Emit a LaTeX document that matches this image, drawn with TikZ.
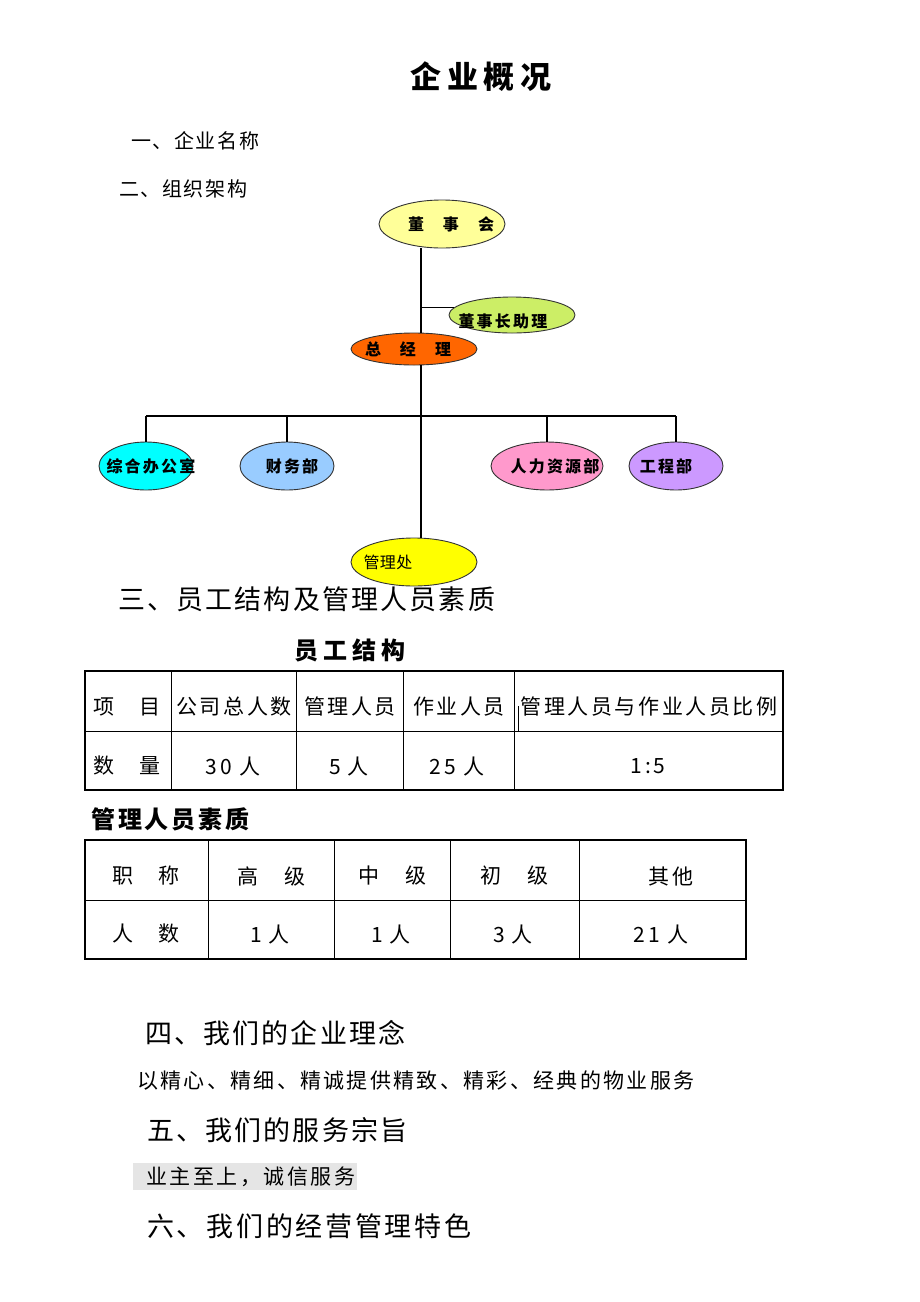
\documentclass[tikz,border=0pt]{standalone}
\usepackage{fontspec}
\setmainfont{Noto Sans CJK SC}
\usetikzlibrary{shapes.geometric}
\definecolor{boardfill}{HTML}{FFFF99}
\definecolor{asstfill}{HTML}{CCEE66}
\definecolor{gmfill}{HTML}{FF6600}
\definecolor{officefill}{HTML}{00FFFF}
\definecolor{financefill}{HTML}{99CCFF}
\definecolor{hrfill}{HTML}{FF99CC}
\definecolor{engfill}{HTML}{CC99FF}
\definecolor{mgmtfill}{HTML}{FFFF00}
\newcommand{\ovaltext}[2][0pt]{\makebox[0pt]{\hspace{#1}\hspace{#1}#2}}
\tikzset{
  orgoval/.style={ellipse,draw=black!80,line width=0.9pt,inner sep=0pt,
    font=\bfseries\fontsize{16}{16}\selectfont\addfontfeature{LetterSpace=14}},
  orgline/.style={line width=1.3pt},
  titletext/.style={inner sep=0pt,font=\bfseries\fontsize{31}{31}\selectfont\addfontfeature{LetterSpace=18}},
  heading/.style={inner sep=0pt,anchor=west,font=\fontsize{27}{27}\selectfont\addfontfeature{LetterSpace=8}},
  subheading/.style={inner sep=0pt,anchor=west,font=\fontsize{20}{20}\selectfont\addfontfeature{LetterSpace=8}},
  bodytext/.style={inner sep=0pt,anchor=west,font=\fontsize{21}{21}\selectfont\addfontfeature{LetterSpace=11}},
  tabletitle/.style={inner sep=0pt,font=\bfseries\fontsize{24}{24}\selectfont\addfontfeature{LetterSpace=20}},
  cell/.style={inner sep=0pt,font=\fontsize{21}{21}\selectfont\addfontfeature{LetterSpace=12}},
  outer/.style={line width=2pt},
  inner/.style={line width=1pt}
}
\begin{document}
\begin{tikzpicture}[x=1pt,y=-1pt]
\useasboundingbox (0,0) rectangle (920,1302);

% title and first items
\node[titletext] (title) at (481,77) {企业概况};
\node[subheading] (sec1) at (131,141) {一、企业名称};
\node[subheading] (sec2) at (119,189) {二、组织架构};

% organisation chart
\node[orgoval,fill=boardfill,minimum width=126,minimum height=48] (board) at (442,224)
  {\ovaltext[9pt]{董\hspace{19pt}事\hspace{19pt}会}};
\node[orgoval,fill=asstfill,minimum width=126,minimum height=36] (asst) at (512,315)
  {\ovaltext[-9pt]{\raisebox{-6pt}[\height][\depth]{董事长助理}}};
\node[orgoval,fill=gmfill,minimum width=126,minimum height=32] (gm) at (414,349)
  {\ovaltext[-6pt]{总\hspace{19pt}经\hspace{19pt}理}};
\node[orgoval,fill=officefill,minimum width=94,minimum height=48] (office) at (146,466)
  {\ovaltext[5pt]{综合办公室}};
\node[orgoval,fill=financefill,minimum width=94,minimum height=48] (finance) at (287,466)
  {\ovaltext[5pt]{财务部}};
\node[orgoval,fill=hrfill,minimum width=112,minimum height=48] (hr) at (547,466)
  {\ovaltext[8pt]{人力资源部}};
\node[orgoval,fill=engfill,minimum width=94,minimum height=48] (eng) at (676,466)
  {\ovaltext[-10pt]{工程部}};
\node[orgoval,fill=mgmtfill,minimum width=126,minimum height=48,
  font=\fontsize{16}{16}\selectfont\addfontfeature{LetterSpace=3}] (mgmt) at (414,562)
  {\ovaltext[-26pt]{管理处}};

\coordinate (trunk) at (421,0);
\coordinate (bus) at (0,416);
\draw[orgline] (board.south -| trunk) -- (gm.north -| trunk);
\draw[orgline] (trunk |- asst.173) -- (asst.173);
\draw[orgline] (gm.south -| trunk) -- (mgmt.north -| trunk);
\draw[orgline] (office.north |- bus) -- (eng.north |- bus);
\foreach \n in {office,finance,hr,eng}
  \draw[orgline] (\n.north |- bus) -- (\n.north);

% staff structure
\node[heading] (sec3) at (118,599) {三、员工结构及管理人员素质};
\node[tabletitle] (tab1title) at (350,650) {员工结构};

\draw[outer] (85,671) rectangle (783,790);
\draw[inner] (85,731) -- (783,731);
\foreach \x in {171,296,403,514}
  \draw[inner] (\x,671) -- (\x,790);
\draw[inner] (518,706) -- (518,731);
\node[cell] (ta-h1) at (127,707) {项\hspace{26pt}目};
\foreach \x/\t [count=\i from 2] in {234/公司总人数,350/管理人员,459/作业人员,649/管理人员与作业人员比例}
  \node[cell] (ta-h\i) at (\x,707) {\t};
\node[cell] (ta-v1) at (127,766) {数\hspace{26pt}量};
\foreach \x/\t [count=\i from 2] in {233/30 人,349/5 人,457/25 人,648/1:5}
  \node[cell] (ta-v\i) at (\x,766) {\t};

\node[tabletitle,anchor=west,font=\bfseries\fontsize{24}{24}\selectfont\addfontfeature{LetterSpace=12}] (tab2title) at (91,819) {管理人员素质};

\draw[outer] (85,840) rectangle (746,959);
\draw[inner] (85,900) -- (746,900);
\foreach \x in {208,334,450,579}
  \draw[inner] (\x,840) -- (\x,959);
\foreach \x/\a/\b [count=\i] in {146/职/称,271/高/级,392/中/级,514/初/级}
  \node[cell] (tb-h\i) at (\x,876) {\a\hspace{26pt}\b};
\node[cell] (tb-h5) at (671,876) {其他};
\node[cell] (tb-v1) at (146,934) {人\hspace{26pt}数};
\foreach \x/\t [count=\i from 2] in {270/1 人,391/1 人,513/3 人,661/21 人}
  \node[cell] (tb-v\i) at (\x,934) {\t};

% philosophy, purpose, features
\node[heading] (sec4) at (145,1033) {四、我们的企业理念};
\node[bodytext] (idea) at (137,1081) {以精心、精细、精诚提供精致、精彩、经典的物业服务};
\node[heading] (sec5) at (147,1130) {五、我们的服务宗旨};
\fill[black!10] (133,1163) rectangle (357,1190);
\node[bodytext,font=\fontsize{21}{21}\selectfont\addfontfeature{LetterSpace=12}] (aim) at (146,1177) {业主至上，诚信服务};
\node[heading,font=\fontsize{27}{27}\selectfont\addfontfeature{LetterSpace=10}] (sec6) at (147,1226) {六、我们的经营管理特色};
\end{tikzpicture}
\end{document}
